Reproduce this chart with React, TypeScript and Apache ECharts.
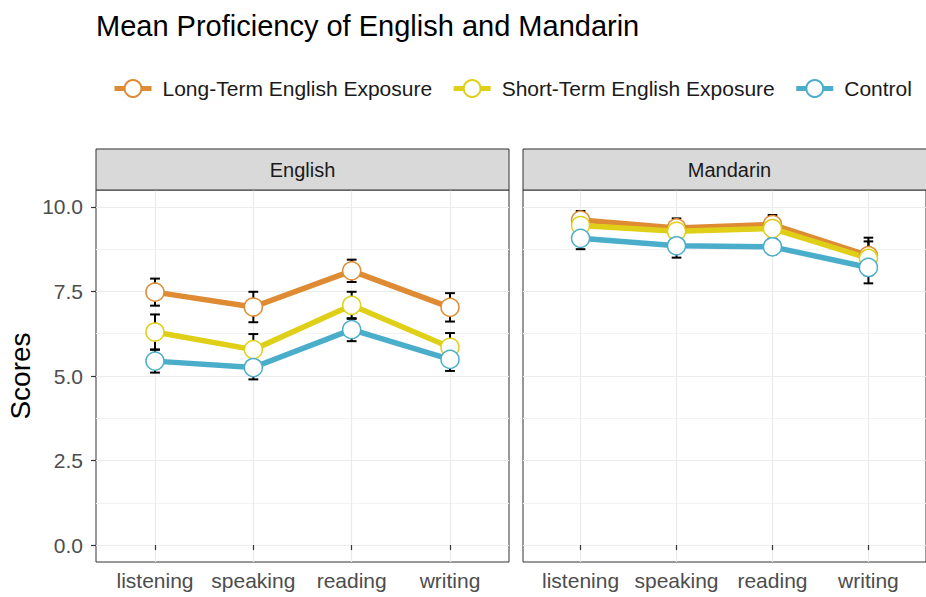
import React, { useEffect, useRef } from 'react';
import * as echarts from 'echarts';

const skills = ['listening', 'speaking', 'reading', 'writing'];
const panels = ['English', 'Mandarin'];
const groups = ['Long-Term English Exposure', 'Short-Term English Exposure', 'Control'];
const colors = ['#DE8B33', '#DFCF17', '#4AAECB'];

// English panel
const englishLong = [7.48, 7.04, 8.11, 7.03];
const englishLongErr = [0.4, 0.45, 0.33, 0.42];
const englishShort = [6.3, 5.78, 7.09, 5.85];
const englishShortErr = [0.52, 0.46, 0.4, 0.42];
const englishControl = [5.44, 5.25, 6.37, 5.49];
const englishControlErr = [0.34, 0.35, 0.34, 0.34];

// Mandarin panel
const mandarinLong = [9.61, 9.38, 9.48, 8.56];
const mandarinLongErr = [0.27, 0.28, 0.28, 0.53];
const mandarinShort = [9.45, 9.28, 9.36, 8.48];
const mandarinShortErr = [0.3, 0.3, 0.3, 0.5];
const mandarinControl = [9.07, 8.85, 8.82, 8.21];
const mandarinControlErr = [0.32, 0.35, 0.22, 0.47];

const yMajorTicks = [0, 2.5, 5, 7.5, 10];
const yAllTicks = [0, 1.25, 2.5, 3.75, 5, 6.25, 7.5, 8.75, 10];

const FONT = '"Liberation Sans", Arial, Helvetica, sans-serif';

const panelValues = [
  [englishLong, englishShort, englishControl],
  [mandarinLong, mandarinShort, mandarinControl],
];
const panelErrors = [
  [englishLongErr, englishShortErr, englishControlErr],
  [mandarinLongErr, mandarinShortErr, mandarinControlErr],
];

export default function App() {
  const ref = useRef<HTMLDivElement>(null);

  useEffect(() => {
    if (!ref.current) return;
    const chart = echarts.init(ref.current, undefined, { renderer: 'svg' });

    const gridLeft = [96, 523];
    const gridTop = 190;
    const gridW = 413;
    const gridH = 372;
    const xPos = skills.map((_, i) => i + 1);

    const grids = gridLeft.map((l) => ({
      left: l,
      top: gridTop,
      width: gridW,
      height: gridH,
      show: true,
      borderColor: '#333333',
      borderWidth: 1,
      backgroundColor: '#ffffff',
      containLabel: false,
    }));

    const xAxes = gridLeft.map((_, p) => ({
      type: 'value',
      gridIndex: p,
      min: 0.4,
      max: 4.6,
      axisLine: { show: false },
      axisTick: {
        show: true,
        length: 5,
        customValues: xPos,
        lineStyle: { color: '#333333', width: 1.2 },
      },
      axisLabel: {
        customValues: xPos,
        formatter: (v: number) => skills[Math.round(v) - 1] ?? '',
        fontSize: 21,
        color: '#4D4D4D',
        margin: 8,
        fontFamily: FONT,
      },
      splitLine: { show: true, lineStyle: { color: '#EBEBEB', width: 1.2 } },
    }));

    const yAxes: any[] = [];
    gridLeft.forEach((_, p) => {
      yAxes.push({
        type: 'value',
        gridIndex: p,
        min: -0.5,
        max: 10.5,
        position: 'left',
        axisLine: { show: false },
        axisTick: { show: false, customValues: yAllTicks },
        axisLabel: { show: false },
        splitLine: {
          show: true,
          lineStyle: { color: ['#EBEBEB', '#F3F3F3'], width: 1.2 },
        },
      });
    });
    yAxes.push({
      type: 'value',
      gridIndex: 0,
      min: -0.5,
      max: 10.5,
      position: 'left',
      axisLine: { show: false },
      axisTick: {
        show: true,
        length: 5,
        customValues: yMajorTicks,
        lineStyle: { color: '#333333', width: 1.2 },
      },
      axisLabel: {
        customValues: yMajorTicks,
        formatter: (v: number) => v.toFixed(1),
        fontSize: 21,
        color: '#4D4D4D',
        margin: 13,
        fontFamily: FONT,
      },
      splitLine: { show: false },
      name: 'Scores',
      nameLocation: 'middle',
      nameGap: 62,
      nameTextStyle: { fontSize: 28, color: '#000000', fontFamily: FONT },
    });

    const series: any[] = [];
    panels.forEach((_, p) => {
      groups.forEach((g, gi) => {
        const vals = panelValues[p][gi];
        const errs = panelErrors[p][gi];
        series.push({
          type: 'custom',
          xAxisIndex: p,
          yAxisIndex: p,
          z: 1,
          silent: true,
          data: vals.map((v, i) => [xPos[i], v - errs[i], v + errs[i]]),
          renderItem: (params: any, api: any) => {
            const x = api.value(0);
            const lo = api.coord([x, api.value(1)]);
            const hi = api.coord([x, api.value(2)]);
            const w = api.size([0.1, 0])[0] / 2;
            const style = { stroke: '#000000', lineWidth: 2 };
            return {
              type: 'group',
              children: [
                { type: 'line', shape: { x1: lo[0], y1: lo[1], x2: hi[0], y2: hi[1] }, style },
                { type: 'line', shape: { x1: lo[0] - w, y1: lo[1], x2: lo[0] + w, y2: lo[1] }, style },
                { type: 'line', shape: { x1: hi[0] - w, y1: hi[1], x2: hi[0] + w, y2: hi[1] }, style },
              ],
            };
          },
        });
      });
    });
    panels.forEach((_, p) => {
      groups.forEach((g, gi) => {
        const vals = panelValues[p][gi];
        series.push({
          type: 'line',
          name: g,
          xAxisIndex: p,
          yAxisIndex: p,
          z: 2,
          color: colors[gi],
          data: vals.map((v, i) => [xPos[i], v]),
          symbol: 'circle',
          symbolSize: 18,
          showSymbol: true,
          lineStyle: { color: colors[gi], width: 5.5 },
          itemStyle: { color: '#ffffff', borderColor: colors[gi], borderWidth: 1.5 },
          emphasis: { disabled: true },
          clip: false,
        });
      });
    });

    const graphic: any[] = [];
    panels.forEach((name, p) => {
      graphic.push({
        type: 'rect',
        shape: { x: gridLeft[p], y: 149, width: gridW, height: 41 },
        style: { fill: '#D9D9D9', stroke: '#333333', lineWidth: 1 },
        z: 10,
      });
      graphic.push({
        type: 'text',
        x: gridLeft[p] + gridW / 2,
        y: 170,
        style: {
          text: name,
          fill: '#1A1A1A',
          font: `20px ${FONT}`,
          align: 'center',
          verticalAlign: 'middle',
        },
        z: 11,
      });
    });

    chart.setOption({
      animation: false,
      backgroundColor: '#ffffff',
      title: {
        text: 'Mean Proficiency of English and Mandarin',
        left: 91,
        top: 6,
        textStyle: { fontSize: 29, fontWeight: 'normal', color: '#000000', fontFamily: FONT },
      },
      legend: {
        data: groups,
        left: 112,
        top: 78,
        width: 840,
        padding: 0,
        itemWidth: 37,
        itemHeight: 21,
        itemGap: 19,
        selectedMode: false,
        lineStyle: { width: 5 },
        textStyle: { fontSize: 21, color: '#1A1A1A', fontFamily: FONT, padding: [0, 0, 0, 6] },
      },
      grid: grids,
      xAxis: xAxes,
      yAxis: yAxes,
      series,
      graphic,
    });

    return () => chart.dispose();
  }, []);

  return (
    <div
      ref={ref}
      style={{ position: 'absolute', left: 0, top: 0, width: 926, height: 597 }}
    />
  );
}
